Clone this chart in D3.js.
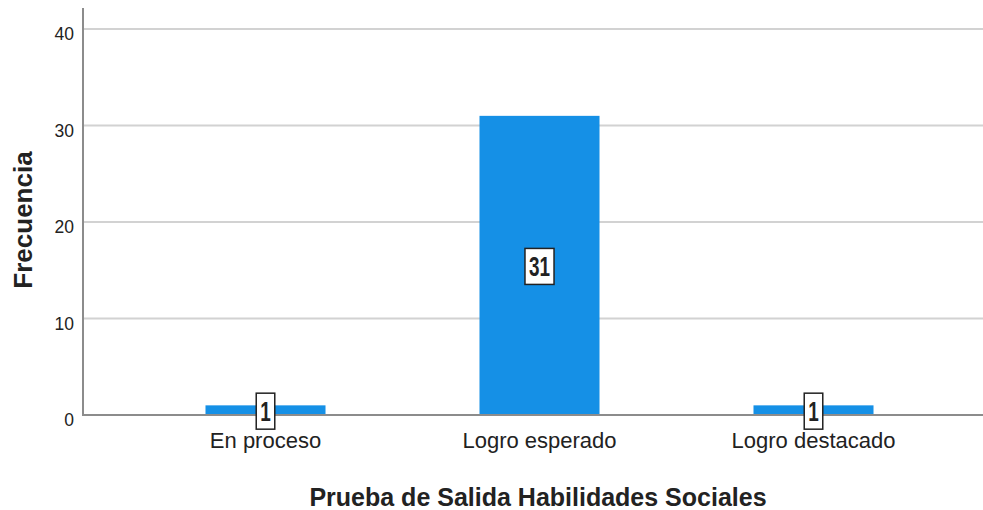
<!DOCTYPE html>
<html>
<head>
<meta charset="utf-8">
<script src="https://cdn.jsdelivr.net/npm/d3@7"></script>
<style>
  body { margin: 0; background: #fff; }
  text { font-family: "Liberation Sans", Arial, sans-serif; fill: #222; }
</style>
</head>
<body>
<div id="display"></div>
<script>
const categories = ["En proceso", "Logro esperado", "Logro destacado"]
const frequencies = [1, 31, 1]
const yTicks = [0, 10, 20, 30, 40]

const width = 983, height = 510

const svg = d3.select('#display').append('svg')
    .attr('width', width)
    .attr('height', height)

const xScale = d3.scaleBand()
    .domain(categories)
    .range([128.5, 950.5])
    .paddingInner(0.562)
    .paddingOuter(0.281)

const yScale = d3.scaleLinear()
    .domain([0, 40])
    .range([415, 29])

// gridlines
svg.append('g').selectAll('line').data(yTicks.filter(d => d > 0))
    .enter().append('line')
        .attr('x1', 84).attr('x2', width)
        .attr('y1', d => yScale(d)).attr('y2', d => yScale(d))
        .attr('stroke', '#d2d2d2')
        .attr('stroke-width', 2)

// y axis
const yAxis = svg.append('g')
    .attr('transform', 'translate(83,0)')
    .call(d3.axisLeft(yScale).tickValues(yTicks).tickSize(0).tickPadding(9))
yAxis.select('.domain').remove()
yAxis.selectAll('text')
    .style('font-size', '17.5px')
    .style('font-family', '"Liberation Sans", Arial, sans-serif')
    .attr('fill', '#222')
    .attr('dy', '0.6em')

svg.append('line')
    .attr('x1', 83).attr('x2', 83)
    .attr('y1', 8).attr('y2', 416)
    .attr('stroke', '#8c8c8c')
    .attr('stroke-width', 2)

// bars
svg.selectAll('.bar').data(frequencies)
    .enter().append('rect')
        .attr('class', 'bar')
        .attr('x', (d, i) => xScale(categories[i]))
        .attr('y', d => yScale(d))
        .attr('width', xScale.bandwidth())
        .attr('height', d => yScale(0) - yScale(d))
        .attr('fill', '#1590e6')

// x axis line
svg.append('line')
    .attr('x1', 82).attr('x2', width)
    .attr('y1', 415).attr('y2', 415)
    .attr('stroke', '#8c8c8c')
    .attr('stroke-width', 2)

// x axis labels
const xAxis = svg.append('g')
    .attr('transform', 'translate(0,416)')
    .call(d3.axisBottom(xScale).tickSize(0).tickPadding(16))
xAxis.select('.domain').remove()
xAxis.selectAll('text')
    .style('font-size', '22px')
    .style('font-family', '"Liberation Sans", Arial, sans-serif')
    .attr('fill', '#222')

// value labels (tall, narrow digits in a white box)
const labels = svg.selectAll('.lbl').data(frequencies)
    .enter().append('g')
        .attr('class', 'lbl')
        .attr('transform', (d, i) => 'translate(' + (xScale(categories[i]) + xScale.bandwidth() / 2) + ',' + ((yScale(0) + yScale(d)) / 2 + 1) + ')')

labels.append('text')
    .attr('text-anchor', 'middle')
    .attr('dy', '0.36em')
    .attr('transform', 'scale(0.7,1)')
    .style('font-size', '27px')
    .style('font-weight', 'bold')
    .text(d => d)
    .each(function() {
        const bb = this.getBBox()
        const w = bb.width * 0.7
        d3.select(this.parentNode).insert('rect', 'text')
            .attr('x', -w / 2 - 4)
            .attr('y', -18)
            .attr('width', w + 8)
            .attr('height', 36)
            .attr('fill', '#fff')
            .attr('stroke', '#222')
            .attr('stroke-width', 1.5)
    })

// axis titles
svg.append('text')
    .attr('transform', 'translate(32,220) rotate(-90)')
    .attr('text-anchor', 'middle')
    .style('font-size', '26px')
    .style('font-weight', 'bold')
    .text('Frecuencia')

svg.append('text')
    .attr('x', 538)
    .attr('y', 506)
    .attr('text-anchor', 'middle')
    .style('font-size', '25px')
    .style('font-weight', 'bold')
    .text('Prueba de Salida Habilidades Sociales')
</script>
</body>
</html>
